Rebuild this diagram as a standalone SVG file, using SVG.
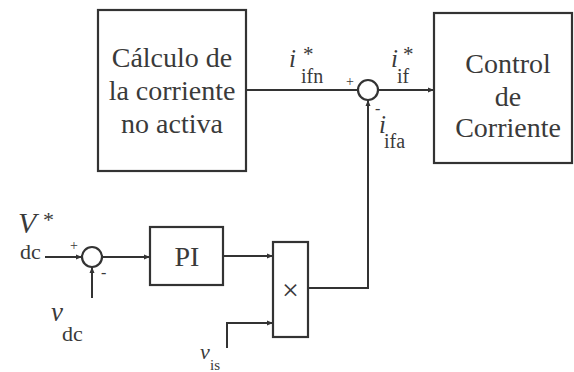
<svg xmlns="http://www.w3.org/2000/svg" width="574" height="372" viewBox="0 0 574 372">
<style>
.box{fill:#fff;stroke:#333;stroke-width:2.2}
.ln{fill:none;stroke:#333;stroke-width:2}
.t{font-family:'Liberation Serif','Times New Roman',serif;fill:#3a3a3a;font-size:28px;text-anchor:middle}
.m{font-family:'Liberation Serif','Times New Roman',serif;fill:#3a3a3a;font-style:italic}
.s{font-family:'Liberation Serif','Times New Roman',serif;fill:#3a3a3a}
</style>
<defs>
<marker id="ar" markerUnits="userSpaceOnUse" markerWidth="7" markerHeight="6" refX="6" refY="3" orient="auto">
<path d="M0,0.5 L6,3 L0,5.5 Z" fill="#333"/>
</marker>
</defs>
<rect width="574" height="372" fill="#fff"/>
<g id="connectors">
<path class="ln" d="M246,90 H358"/>
<path class="ln" d="M378,90 H434" marker-end="url(#ar)"/>
<path class="ln" d="M308,288 H368 V100" marker-end="url(#ar)"/>
<path class="ln" d="M45,257 H82" marker-end="url(#ar)"/>
<path class="ln" d="M102,257 H150" marker-end="url(#ar)"/>
<path class="ln" d="M92,298 V267" marker-end="url(#ar)"/>
<path class="ln" d="M223,256 H273" marker-end="url(#ar)"/>
<path class="ln" d="M227,348 V323 H273" marker-end="url(#ar)"/>
</g>
<g id="calculo">
<rect class="box" x="98" y="10" width="148" height="161"/>
<text class="t" x="172" y="67">Cálculo de</text>
<text class="t" x="172" y="100">la corriente</text>
<text class="t" x="172" y="133">no activa</text>
</g>
<g id="control">
<rect class="box" x="434" y="13" width="138" height="150"/>
<text class="t" x="508" y="73">Control</text>
<text class="t" x="508" y="106">de</text>
<text class="t" x="508" y="137">Corriente</text>
</g>
<g id="sum1">
<circle class="box" cx="368" cy="90" r="10" stroke-width="2"/>
<text class="s" x="346" y="86" font-size="14">+</text>
<text class="s" x="375" y="114" font-size="16">-</text>
</g>
<g id="sum2">
<circle class="box" cx="92" cy="257" r="10" stroke-width="2"/>
<text class="s" x="70" y="250" font-size="14">+</text>
<text class="s" x="101" y="278" font-size="16">-</text>
</g>
<g id="pi">
<rect class="box" x="150" y="227" width="73" height="58"/>
<text class="t" x="187" y="266">PI</text>
</g>
<g id="mult">
<rect class="box" x="273" y="242" width="35" height="95"/>
<text class="s" x="290.5" y="300" font-size="30" text-anchor="middle" fill="#666">×</text>
</g>
<g id="labels">
<text class="m" x="289" y="67" font-size="25">i</text>
<text class="s" x="303" y="61" font-size="21">*</text>
<text class="s" x="301" y="83" font-size="20">ifn</text>
<text class="m" x="391" y="67" font-size="25">i</text>
<text class="s" x="403" y="61" font-size="21">*</text>
<text class="s" x="397" y="83" font-size="20">if</text>
<text class="m" x="379" y="133" font-size="25">i</text>
<text class="s" x="384" y="148" font-size="20">ifa</text>
<text class="m" x="18" y="233" font-size="30">V</text>
<text class="s" x="43" y="227" font-size="22">*</text>
<text class="s" x="20" y="259" font-size="22">dc</text>
<text class="m" x="51" y="321" font-size="27">v</text>
<text class="s" x="62" y="341" font-size="22">dc</text>
<text class="m" x="200" y="359" font-size="22">v</text>
<text class="s" x="210" y="370" font-size="15">is</text>
</g>
</svg>
